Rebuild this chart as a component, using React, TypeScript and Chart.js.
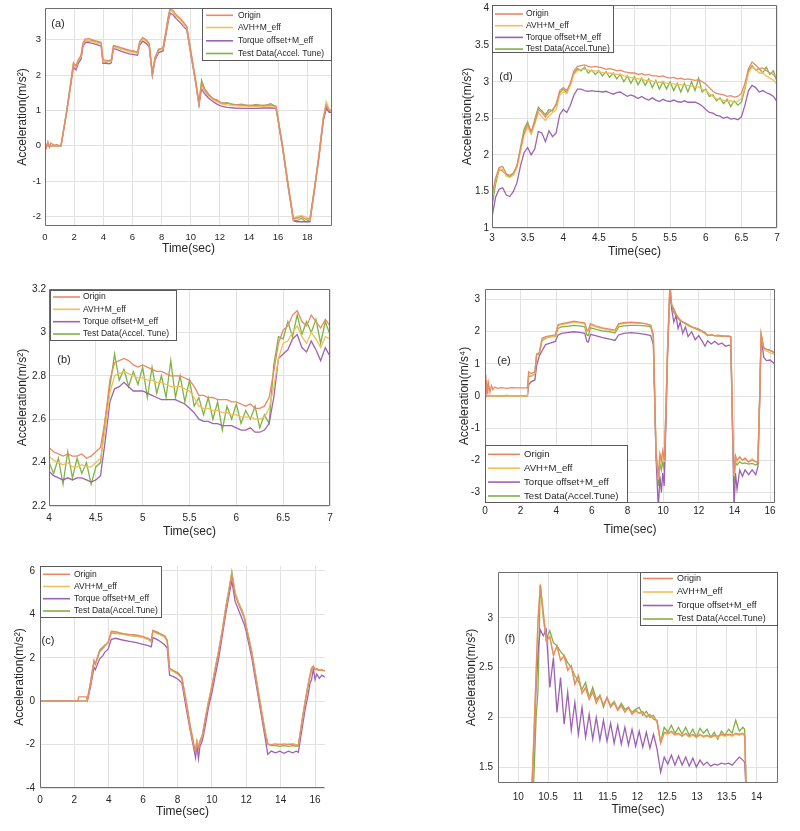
import React, { useEffect, useRef } from "react";
import { Chart, registerables } from "chart.js";
Chart.register(...registerables);

// ---------------- DATA ----------------
const NAMES_SPACE = ["Origin", "AVH+M_eff", "Torque offset+M_eff", "Test Data(Accel. Tune)"];
const NAMES_NOSPACE = ["Origin", "AVH+M_eff", "Torque offset+M_eff", "Test Data(Accel.Tune)"];

// Panel (a)
const xA = [0,0.1,0.2,0.3,0.4,0.6,0.8,1.1,1.5,1.95,
  2.13,2.3,2.47,2.6,2.75,3.0,3.25,3.5,3.85,3.98,
  4.2,4.4,4.55,4.7,4.9,5.2,5.5,5.8,6.1,6.35,
  6.5,6.7,6.95,7.15,7.37,7.55,7.8,8.1,8.3,8.5,
  8.6,8.8,9.0,9.25,9.5,9.73,10.0,10.3,10.57,10.75,
  10.95,11.2,11.5,11.8,12.1,12.5,13.0,13.5,14.0,14.5,
  15.0,15.5,15.86,16.3,16.7,17.05,17.3,17.6,17.9,18.19,
  18.5,18.8,19.1,19.3,19.5,19.7];
const aOrigin = [0.15,-0.05,0.12,-0.04,0.08,0.02,0.03,0.0,1.0,2.35,
  2.25,2.45,2.55,2.9,3.02,3.03,3.0,2.97,2.93,2.43,
  2.42,2.41,2.43,2.84,2.82,2.78,2.74,2.71,2.68,2.66,
  2.95,3.06,3.0,2.9,2.05,2.5,2.72,2.78,3.25,3.72,
  3.9,3.82,3.72,3.62,3.5,3.38,2.7,1.95,1.22,1.78,
  1.6,1.45,1.35,1.28,1.22,1.2,1.17,1.15,1.15,1.14,
  1.15,1.16,1.12,0.0,-1.15,-2.05,-2.05,-2.0,-2.08,-2.05,
  -1.2,-0.3,0.75,1.15,1.0,1.0];
const aAVH = [0,0,0.01,0,0,0,0,0,1.0,2.3,
  2.22,2.42,2.52,2.85,2.98,2.97,2.95,2.92,2.88,2.38,
  2.38,2.37,2.4,2.8,2.78,2.74,2.7,2.67,2.64,2.62,
  2.9,3.02,2.96,2.86,2.02,2.47,2.7,2.74,3.2,3.68,
  3.85,3.78,3.68,3.58,3.46,3.34,2.66,1.92,1.2,1.72,
  1.56,1.42,1.32,1.24,1.19,1.16,1.14,1.12,1.12,1.11,
  1.12,1.13,1.1,0.0,-1.15,-2.1,-2.0,-1.98,-2.02,-2.1,
  -1.2,-0.3,0.8,1.25,1.05,0.95];
const aTorque = [0,0,0,0,0,0,0,0,0.98,2.22,
  2.15,2.35,2.45,2.8,2.92,2.92,2.9,2.87,2.82,2.33,
  2.33,2.32,2.35,2.75,2.73,2.68,2.64,2.6,2.58,2.56,
  2.85,2.96,2.9,2.8,1.98,2.42,2.64,2.68,3.14,3.6,
  3.75,3.7,3.6,3.5,3.38,3.28,2.6,1.88,1.15,1.62,
  1.48,1.36,1.26,1.18,1.12,1.09,1.07,1.06,1.06,1.06,
  1.07,1.07,1.06,-0.05,-1.2,-2.12,-2.15,-2.15,-2.15,-2.15,
  -1.25,-0.35,0.7,1.05,0.95,0.95];
const aTest = [0,0.01,0,0.01,0,0,0,0,1.02,2.3,
  2.28,2.42,2.5,2.88,2.98,2.95,2.98,2.93,2.9,2.4,
  2.36,2.42,2.38,2.82,2.8,2.74,2.72,2.66,2.68,2.62,
  2.92,3.03,2.97,2.88,2.04,2.48,2.74,2.72,3.22,3.75,
  3.86,3.8,3.66,3.6,3.48,3.36,2.7,1.95,1.2,1.85,
  1.62,1.48,1.33,1.3,1.2,1.22,1.15,1.18,1.12,1.17,
  1.12,1.19,1.1,0.02,-1.12,-2.1,-2.12,-2.05,-2.15,-2.08,
  -1.18,-0.28,0.78,1.1,0.98,1.02];
const xTicksA = [0,2,4,6,8,10,12,14,16,18];
const yTicksA = [-2,-1,0,1,2,3];

// Panel (b)
const xB = [4,4.05,4.1,4.15,4.2,4.25,4.3,4.35,4.4,4.45,
  4.5,4.55,4.6,4.65,4.7,4.75,4.8,4.85,4.9,4.95,
  5,5.05,5.1,5.15,5.2,5.25,5.3,5.35,5.4,5.45,
  5.5,5.55,5.6,5.65,5.7,5.75,5.8,5.85,5.9,5.95,
  6,6.05,6.1,6.15,6.2,6.25,6.3,6.35,6.4,6.45,
  6.5,6.55,6.6,6.65,6.7,6.75,6.8,6.85,6.9,6.95,7];
const bOrigin = [2.47,2.45,2.44,2.43,2.44,2.43,2.43,2.44,2.42,2.43,
  2.45,2.47,2.6,2.78,2.86,2.87,2.88,2.87,2.85,2.84,
  2.85,2.84,2.83,2.82,2.82,2.81,2.8,2.8,2.8,2.79,
  2.78,2.75,2.71,2.71,2.7,2.7,2.69,2.69,2.69,2.68,
  2.68,2.67,2.66,2.67,2.65,2.65,2.66,2.7,2.82,2.95,
  3.01,3.03,3.08,3.1,3.05,3.03,3.08,3.05,3.02,3.06,3.03];
const bAVH = [2.43,2.41,2.4,2.39,2.4,2.38,2.38,2.39,2.38,2.38,
  2.4,2.42,2.55,2.72,2.8,2.81,2.82,2.81,2.8,2.79,
  2.79,2.78,2.78,2.77,2.77,2.76,2.75,2.75,2.75,2.74,
  2.73,2.7,2.66,2.65,2.65,2.64,2.64,2.63,2.63,2.62,
  2.62,2.61,2.61,2.61,2.6,2.6,2.61,2.65,2.75,2.88,
  2.95,2.96,3.0,3.03,2.98,2.95,3.0,2.97,2.93,2.98,2.97];
const bTorque = [2.36,2.34,2.33,2.32,2.33,2.32,2.33,2.33,2.32,2.31,
  2.32,2.34,2.5,2.68,2.74,2.75,2.77,2.75,2.73,2.73,
  2.73,2.72,2.71,2.7,2.69,2.69,2.69,2.69,2.68,2.67,
  2.65,2.63,2.6,2.59,2.59,2.58,2.58,2.57,2.57,2.57,
  2.56,2.55,2.55,2.56,2.54,2.54,2.55,2.58,2.7,2.88,
  2.9,2.92,2.97,2.99,2.93,2.91,2.96,2.92,2.87,2.93,2.89];
const bTest = [2.4,2.35,2.42,2.3,2.45,2.33,2.42,2.35,2.4,2.3,
  2.38,2.4,2.6,2.75,2.9,2.78,2.83,2.75,2.82,2.76,
  2.84,2.7,2.84,2.72,2.8,2.7,2.87,2.7,2.8,2.68,
  2.78,2.66,2.7,2.62,2.7,2.6,2.68,2.55,2.66,2.6,
  2.67,2.58,2.64,2.6,2.66,2.56,2.62,2.58,2.85,2.98,
  2.97,3.05,2.98,3.08,2.99,3.05,3.0,3.06,2.95,3.05,2.99];
const xTicksB = [4,4.5,5,5.5,6,6.5,7];
const yTicksB = [2.2,2.4,2.6,2.8,3,3.2];

// Panel (c)
const xC = [0,1.0,2.2,2.25,2.7,2.75,2.95,3.14,3.22,3.47,
  3.66,3.76,3.96,4.15,4.4,4.8,5.2,5.6,6.0,6.3,
  6.47,6.57,6.8,7.0,7.25,7.4,7.54,7.8,8.05,8.25,
  8.5,8.75,8.95,9.05,9.13,9.22,9.3,9.45,9.6,9.8,
  10.0,10.2,10.4,10.6,10.8,11.0,11.16,11.35,11.55,11.75,
  11.9,12.0,12.32,12.55,12.8,13.1,13.25,13.45,13.7,13.95,
  14.2,14.45,14.7,14.9,15.03,15.2,15.42,15.6,15.7,15.8,
  15.9,16.0,16.1,16.25,16.4,16.58];
const cOrigin = [0,0,0,0.2,0.2,0.05,0.9,1.88,1.7,2.3,
  2.45,2.55,2.72,3.22,3.2,3.12,3.08,3.05,2.98,2.9,
  2.8,3.27,3.15,3.1,3.0,2.8,1.5,1.38,1.25,1.1,
  0.0,-1.2,-2.0,-2.3,-1.9,-2.2,-1.9,-1.6,-0.9,-0.1,
  0.65,1.5,2.3,3.2,4.2,5.1,5.85,4.9,4.45,4.1,
  3.77,3.39,2.2,1.1,-0.12,-1.5,-2.0,-2.0,-2.02,-1.98,
  -2.02,-1.98,-2.0,-2.02,-2.05,-1.2,-0.1,0.7,1.1,1.45,
  1.62,1.45,1.5,1.42,1.45,1.4];
const cAVH = [0,0,0,0,0,0.05,0.88,1.85,1.68,2.28,
  2.42,2.52,2.7,3.18,3.15,3.08,3.04,3.0,2.93,2.85,
  2.75,3.22,3.12,3.05,2.95,2.75,1.45,1.35,1.22,1.05,
  -0.05,-1.25,-2.05,-2.2,-1.8,-2.1,-1.85,-1.55,-0.85,0.0,
  0.7,1.55,2.35,3.25,4.25,5.15,5.9,5.0,4.5,4.15,
  3.8,3.42,2.25,1.15,-0.05,-1.45,-1.95,-2.0,-1.95,-2.0,
  -1.95,-2.0,-1.95,-2.0,-2.0,-1.15,-0.05,0.75,1.15,1.5,
  1.6,1.48,1.5,1.45,1.42,1.42];
const cTorque = [0,0,0,0,0,0,0.7,1.57,1.45,1.95,
  2.1,2.25,2.4,2.85,2.9,2.82,2.76,2.7,2.62,2.56,
  2.5,2.93,2.85,2.75,2.6,2.45,1.2,1.12,1.0,0.85,
  -0.3,-1.4,-2.2,-2.6,-2.0,-2.65,-2.1,-1.8,-1.2,-0.3,
  0.4,1.2,2.0,3.0,4.0,4.9,5.55,4.6,4.2,3.8,
  3.5,3.2,2.0,0.9,-0.3,-1.7,-2.45,-2.3,-2.38,-2.3,
  -2.4,-2.3,-2.38,-2.3,-2.35,-1.5,-0.4,0.3,0.8,1.0,
  1.5,1.0,1.25,1.05,1.2,1.1];
const cTest = [0,0,0,0,0,0,0.9,1.8,1.7,2.35,
  2.5,2.58,2.68,3.15,3.12,3.1,3.02,3.0,2.95,2.85,
  2.72,3.25,3.2,3.1,3.0,2.8,1.5,1.4,1.3,1.1,
  0.0,-1.2,-2.0,-2.25,-1.85,-2.15,-1.85,-1.55,-0.9,-0.05,
  0.7,1.55,2.35,3.25,4.3,5.2,5.97,5.0,4.55,4.2,
  3.85,3.45,2.3,1.2,0.0,-1.4,-1.95,-2.05,-2.05,-2.08,
  -2.05,-2.08,-2.05,-2.08,-2.05,-1.1,0.0,0.8,1.2,1.55,
  1.6,1.48,1.45,1.42,1.42,1.4];
const xTicksC = [0,2,4,6,8,10,12,14,16];
const yTicksC = [-4,-2,0,2,4,6];

// Panel (d)
const xD = [3,3.05,3.1,3.15,3.2,3.25,3.3,3.35,3.4,3.45,
  3.5,3.55,3.6,3.65,3.7,3.75,3.8,3.85,3.9,3.95,
  4,4.05,4.1,4.15,4.2,4.25,4.3,4.35,4.4,4.45,
  4.5,4.55,4.6,4.65,4.7,4.75,4.8,4.85,4.9,4.95,
  5,5.05,5.1,5.15,5.2,5.25,5.3,5.35,5.4,5.45,
  5.5,5.55,5.6,5.65,5.7,5.75,5.8,5.85,5.9,5.95,
  6,6.05,6.1,6.15,6.2,6.25,6.3,6.35,6.4,6.45,
  6.5,6.55,6.6,6.65,6.7,6.75,6.8,6.85,6.9,6.95,7];
const dOrigin = [1.45,1.68,1.83,1.84,1.74,1.72,1.75,1.85,2.08,2.3,
  2.42,2.32,2.45,2.62,2.58,2.52,2.58,2.62,2.68,2.88,
  2.92,2.88,2.98,3.15,3.21,3.22,3.23,3.21,3.2,3.21,
  3.2,3.19,3.17,3.18,3.17,3.15,3.16,3.14,3.13,3.12,
  3.12,3.1,3.11,3.09,3.1,3.08,3.08,3.07,3.08,3.06,
  3.05,3.06,3.04,3.05,3.03,3.04,3.03,3.02,3.03,3.0,
  2.97,2.92,2.87,2.84,2.83,2.82,2.8,2.81,2.79,2.8,
  2.84,2.98,3.18,3.27,3.23,3.18,3.19,3.15,3.12,3.1,3.03];
const dAVH = [1.4,1.65,1.81,1.8,1.71,1.69,1.72,1.82,2.05,2.27,
  2.38,2.28,2.42,2.58,2.52,2.47,2.53,2.58,2.62,2.82,
  2.86,2.84,2.95,3.1,3.15,3.17,3.17,3.16,3.15,3.15,
  3.14,3.13,3.12,3.12,3.11,3.1,3.1,3.08,3.07,3.06,
  3.05,3.04,3.04,3.02,3.02,3.01,3.0,2.99,3.0,2.98,
  2.97,2.97,2.96,2.96,2.95,2.95,2.94,2.93,2.93,2.9,
  2.88,2.84,2.8,2.77,2.76,2.75,2.73,2.74,2.72,2.73,
  2.77,2.92,3.12,3.2,3.17,3.12,3.12,3.08,3.05,3.02,2.97];
const dTorque = [1.15,1.42,1.53,1.55,1.45,1.43,1.5,1.62,1.85,2.03,
  2.1,2.0,2.08,2.32,2.3,2.18,2.33,2.25,2.3,2.55,
  2.62,2.58,2.68,2.82,2.9,2.9,2.88,2.87,2.88,2.87,
  2.87,2.86,2.87,2.85,2.83,2.85,2.86,2.83,2.8,2.82,
  2.8,2.77,2.8,2.77,2.75,2.78,2.75,2.73,2.76,2.74,
  2.73,2.75,2.73,2.72,2.74,2.72,2.72,2.72,2.7,2.67,
  2.62,2.58,2.57,2.54,2.53,2.5,2.52,2.49,2.5,2.48,
  2.52,2.68,2.88,2.95,2.92,2.86,2.88,2.85,2.83,2.8,2.73];
const dTest = [1.3,1.6,1.8,1.78,1.73,1.7,1.75,1.85,2.1,2.35,
  2.45,2.3,2.48,2.65,2.6,2.55,2.62,2.6,2.7,2.85,
  2.9,2.85,2.98,3.12,3.18,3.15,3.2,3.12,3.16,3.1,
  3.15,3.08,3.14,3.06,3.12,3.04,3.1,3.0,3.08,2.98,
  3.07,2.96,3.05,2.95,3.04,2.92,3.02,2.9,3.0,2.9,
  3.0,2.88,2.98,2.86,2.98,2.86,3.0,2.88,3.05,2.86,
  2.9,2.8,2.82,2.74,2.78,2.7,2.76,2.66,2.74,2.68,
  2.72,2.9,3.15,3.22,3.16,3.18,3.12,3.2,3.1,3.15,3.0];
const xTicksD = [3,3.5,4,4.5,5,5.5,6,6.5,7];
const yTicksD = [1,1.5,2,2.5,3,3.5,4];

// Panel (e)
const xE = [0,0.05,0.1,0.15,0.2,0.28,0.36,0.45,0.55,0.7,
  0.9,1.2,1.5,1.8,2.1,2.38,2.45,2.6,2.8,2.9,
  3.05,3.2,3.4,3.7,3.95,4.1,4.3,4.6,5.0,5.3,
  5.6,5.72,5.8,5.92,6.2,6.6,7.0,7.3,7.5,7.8,
  8.2,8.6,9.0,9.3,9.45,9.6,9.73,9.82,9.9,9.98,
  10.06,10.15,10.25,10.38,10.48,10.6,10.72,10.84,10.96,11.1,
  11.25,11.4,11.6,11.8,12.0,12.2,12.35,12.5,12.7,12.9,
  13.1,13.3,13.5,13.7,13.8,13.9,13.98,14.06,14.15,14.3,
  14.45,14.6,14.8,15.0,15.2,15.32,15.42,15.5,15.65,15.8,
  16.0,16.15,16.28];
const eOrigin = [0.65,-0.05,0.5,0.05,0.4,0.12,0.32,0.2,0.28,0.24,
  0.26,0.24,0.26,0.25,0.25,0.25,0.75,0.7,0.75,1.3,
  1.35,1.8,1.85,1.88,1.9,2.22,2.25,2.28,2.33,2.3,
  2.28,2.05,2.05,2.25,2.18,2.12,2.08,2.05,2.25,2.28,
  2.3,2.28,2.25,2.2,1.9,-1.7,-2.5,-1.8,-2.0,-1.7,
  -2.0,-0.5,1.5,3.5,2.85,2.7,2.55,2.45,2.35,2.3,
  2.25,2.2,2.15,2.1,2.05,2.0,1.95,1.88,1.9,1.88,
  1.87,1.88,1.86,1.85,1.85,-1.0,-2.4,-1.85,-2.0,-1.9,
  -2.0,-1.95,-2.05,-2.0,-2.05,-2.05,0.0,1.95,1.5,1.45,
  1.42,1.38,1.32];
const eAVH = [0,0,0,0,0,0,0,0,0,0,
  0,0,0,0,0,0,0.68,0.62,0.7,1.3,
  1.32,1.75,1.82,1.85,1.87,2.18,2.22,2.25,2.3,2.28,
  2.25,2.02,2.02,2.22,2.15,2.1,2.05,2.02,2.22,2.26,
  2.28,2.27,2.25,2.2,1.9,-1.7,-2.6,-1.85,-2.1,-1.75,
  -2.05,-0.5,1.5,3.5,2.85,2.72,2.55,2.45,2.38,2.3,
  2.25,2.2,2.15,2.1,2.05,2.0,1.95,1.9,1.92,1.88,
  1.9,1.87,1.86,1.86,1.85,-1.0,-2.5,-1.9,-2.05,-1.88,
  -2.0,-1.92,-2.05,-1.95,-2.05,-2.05,0.0,1.95,1.45,1.4,
  1.35,1.32,1.28];
const eTorque = [0,0,0,0,0,0,0,0,0,0,
  0,0,0,0,0,0,0.35,0.45,0.5,0.95,
  1.25,1.4,1.6,1.65,1.7,1.9,1.95,1.97,2.0,1.98,
  1.95,1.7,1.68,1.92,1.88,1.82,1.77,1.73,1.9,1.95,
  1.97,1.95,1.92,1.88,1.6,-1.9,-3.5,-2.5,-3.0,-2.4,
  -2.8,-1.0,1.3,3.3,2.7,2.3,2.5,2.1,2.3,1.95,
  2.15,1.85,2.0,1.75,1.88,1.7,1.55,1.72,1.62,1.7,
  1.6,1.65,1.55,1.58,1.55,-1.2,-3.5,-2.4,-2.9,-2.3,
  -2.5,-2.3,-2.45,-2.3,-2.45,-2.2,-0.2,1.85,1.2,1.1,
  1.12,1.05,1.0];
const eTest = [0,0.02,0,0.01,0,0.01,0,0.02,0,0.01,
  0,0.02,0,0.01,0,0,0.6,0.62,0.68,1.3,
  1.3,1.72,1.8,1.85,1.85,2.1,2.15,2.17,2.2,2.18,
  2.15,1.9,1.88,2.12,2.08,2.03,2.0,1.96,2.15,2.18,
  2.2,2.2,2.18,2.15,1.85,-1.8,-2.8,-2.1,-2.3,-2.05,
  -2.3,-0.7,1.4,3.4,2.8,2.6,2.5,2.4,2.35,2.3,
  2.28,2.22,2.15,2.12,2.08,2.02,1.98,1.88,1.9,1.87,
  1.88,1.85,1.86,1.87,1.82,-1.1,-2.7,-2.05,-2.15,-2.05,
  -2.1,-2.08,-2.12,-2.1,-2.15,-2.1,0.0,1.9,1.5,1.45,
  1.42,1.38,1.35];
const xTicksE = [0,2,4,6,8,10,12,14,16];
const yTicksE = [-3,-2,-1,0,1,2,3];

// Panel (f)
const xF = [10.2,10.25,10.3,10.33,10.37,10.42,10.47,10.53,10.59,10.65,
  10.71,10.77,10.83,10.89,10.95,11.01,11.07,11.13,11.19,11.25,
  11.31,11.37,11.43,11.49,11.55,11.61,11.67,11.73,11.79,11.85,
  11.91,11.97,12.03,12.09,12.15,12.21,12.27,12.33,12.39,12.45,
  12.51,12.57,12.63,12.69,12.75,12.81,12.87,12.93,12.99,13.05,
  13.11,13.17,13.23,13.29,13.35,13.41,13.47,13.53,13.59,13.65,
  13.71,13.77,13.8,13.83,13.86];
const fOrigin = [0.9,1.6,2.45,2.95,3.33,3.05,2.77,2.81,2.62,2.72,
  2.57,2.62,2.47,2.52,2.33,2.42,2.24,2.3,2.18,2.26,
  2.14,2.22,2.12,2.2,2.1,2.15,2.07,2.12,2.05,2.1,
  2.03,2.07,2.04,2.06,2.0,2.03,1.98,1.97,1.74,1.85,
  1.84,1.86,1.83,1.84,1.81,1.84,1.81,1.83,1.8,1.83,
  1.81,1.82,1.8,1.82,1.81,1.83,1.82,1.83,1.82,1.84,
  1.83,1.84,1.82,1.2,0.5];
const fAVH = [0.9,1.62,2.47,2.97,3.34,3.06,2.78,2.8,2.63,2.71,
  2.58,2.61,2.48,2.51,2.34,2.41,2.25,2.29,2.19,2.25,
  2.15,2.21,2.13,2.19,2.11,2.14,2.08,2.11,2.06,2.09,
  2.04,2.06,2.04,2.05,2.01,2.02,1.99,1.96,1.75,1.84,
  1.83,1.85,1.82,1.83,1.81,1.83,1.8,1.82,1.8,1.82,
  1.8,1.81,1.8,1.81,1.8,1.82,1.81,1.82,1.81,1.83,
  1.82,1.83,1.81,1.2,0.5];
const fTorque = [0.9,1.55,2.3,2.65,2.88,2.82,2.88,2.3,2.6,2.05,
  2.4,1.93,2.25,1.87,2.15,1.83,2.1,1.8,2.03,1.78,
  2.0,1.77,1.97,1.76,1.94,1.74,1.92,1.73,1.9,1.72,
  1.88,1.71,1.86,1.7,1.85,1.69,1.83,1.68,1.45,1.6,
  1.53,1.62,1.52,1.61,1.52,1.6,1.51,1.59,1.5,1.57,
  1.52,1.55,1.51,1.53,1.52,1.54,1.53,1.54,1.52,1.56,
  1.6,1.57,1.55,1.2,0.5];
const fTest = [0.5,1.2,2.0,2.25,3.33,3.0,2.78,2.87,2.75,2.72,
  2.66,2.62,2.55,2.5,2.42,2.36,2.28,2.35,2.2,2.3,
  2.18,2.22,2.1,2.2,2.12,2.16,2.08,2.14,2.08,2.1,
  2.05,2.08,2.1,2.02,2.06,2.0,2.02,1.95,1.75,1.9,
  1.85,1.92,1.84,1.9,1.83,1.9,1.82,1.88,1.8,1.89,
  1.84,1.88,1.8,1.85,1.78,1.86,1.82,1.88,1.84,1.97,
  1.86,1.9,1.88,1.2,0.5];
const xTicksF = [10,10.5,11,11.5,12,12.5,13,13.5,14];
const yTicksF = [1.5,2,2.5,3];

// ---------------- STYLE / LAYOUT ----------------
const COLORS = ["rgb(232,138,104)", "rgb(240,193,88)", "rgb(158,98,178)", "rgb(128,178,68)"];
const FONT = "'Liberation Sans', Arial, Helvetica, sans-serif";
const GRID = "rgb(226,226,226)";
const AXIS = "rgb(110,110,110)";
const TXT = "#262626";
const WY = 50, PT = 14, PR = 14, HX = 42;

type Cfg = any;

const PANELS: Cfg[] = [
  { xs: xA, series: [aOrigin, aAVH, aTorque, aTest], names: NAMES_SPACE, xr: [0, 19.7], yr: [-2.27, 3.9],
    xt: xTicksA, yt: yTicksA, p: { l: 45, t: 8, r: 332, b: 226 }, yTitle: "Acceleration(m/s²)", yTitleX: 23, xTitleY: 249,
    label: "(a)", lx: 58, ly: 24, box: true, xPad: 6, yPad: 4, tickSize: 9.5,
    lg: { x1: 202, y1: 8, x2: 332, y2: 61, ys: [15.3, 27.5, 40.8, 53.5], l1: 206, l2: 233, tx: 238, fs: 8.5 } },
  { xs: xD, series: [dOrigin, dAVH, dTorque, dTest], names: NAMES_NOSPACE, xr: [3, 7], yr: [1, 4.05],
    xt: xTicksD, yt: yTicksD, p: { l: 492, t: 5, r: 777, b: 228 }, yTitle: "Acceleration(m/s²)", yTitleX: 468, xTitleY: 252,
    label: "(d)", lx: 506, ly: 77, box: true, xPad: 4, yPad: 3, tickSize: 10,
    lg: { x1: 492, y1: 5, x2: 614, y2: 53, ys: [14, 25.7, 37.4, 49.1], l1: 495, l2: 523, tx: 526, fs: 8.5 } },
  { xs: xB, series: [bOrigin, bAVH, bTorque, bTest], names: NAMES_SPACE, xr: [4, 7], yr: [2.2, 3.2],
    xt: xTicksB, yt: yTicksB, p: { l: 49, t: 289, r: 330, b: 506 }, yTitle: "Acceleration(m/s²)", yTitleX: 23, xTitleY: 532,
    label: "(b)", lx: 64, ly: 360, box: true, xPad: 6, yPad: 3, tickSize: 10,
    lg: { x1: 50, y1: 290, x2: 177, y2: 341, ys: [297, 309.3, 321.7, 334], l1: 53, l2: 80, tx: 83, fs: 8.5 } },
  { xs: xE, series: [eOrigin, eAVH, eTorque, eTest], names: NAMES_NOSPACE, xr: [0, 16.28], yr: [-3.33, 3.33],
    xt: xTicksE, yt: yTicksE, p: { l: 485, t: 289, r: 775, b: 503 }, yTitle: "Acceleration(m/s⁴)", yTitleX: 465, xTitleY: 530,
    label: "(e)", lx: 504, ly: 361, box: true, xPad: 2, yPad: 5, tickSize: 10,
    lg: { x1: 485, y1: 445, x2: 628, y2: 503, ys: [454.3, 468.2, 482.1, 496], l1: 488, l2: 520, tx: 524, fs: 9.6 } },
  { xs: xC, series: [cOrigin, cAVH, cTorque, cTest], names: NAMES_NOSPACE, xr: [0, 16.58], yr: [-4, 6.23],
    xt: xTicksC, yt: yTicksC, p: { l: 40, t: 566, r: 325, b: 788 }, yTitle: "Acceleration(m/s²)", yTitleX: 20, xTitleY: 812,
    label: "(c)", lx: 48, ly: 641, box: false, xPad: 6, yPad: 5, tickSize: 10,
    lg: { x1: 40, y1: 566, x2: 162, y2: 618, ys: [574.3, 586.5, 598.7, 611], l1: 43, l2: 70, tx: 74, fs: 8.5 } },
  { xs: xF, series: [fOrigin, fAVH, fTorque, fTest], names: NAMES_NOSPACE, xr: [9.66, 14.36], yr: [1.34, 3.46],
    xt: xTicksF, yt: yTicksF, p: { l: 498, t: 572, r: 778, b: 783 }, yTitle: "Acceleration(m/s²)", yTitleX: 472, xTitleY: 810,
    label: "(f)", lx: 510, ly: 639, box: true, xPad: 8, yPad: 5, tickSize: 10,
    lg: { x1: 640, y1: 572, x2: 778, y2: 626, ys: [578.5, 592, 605.5, 619], l1: 643, l2: 673, tx: 677, fs: 9 } },
];

function makeDecor(cfg: Cfg, ox: number, oy: number) {
  return {
    id: "decor",
    afterDatasetsDraw(chart: any) {
      const ctx = chart.ctx;
      const ca = chart.chartArea;
      ctx.save();
      ctx.strokeStyle = AXIS;
      ctx.lineWidth = 1;
      const L = Math.round(ca.left) + 0.5, R = Math.round(ca.right) - 0.5;
      const T = Math.round(ca.top) + 0.5, B = Math.round(ca.bottom) - 0.5;
      ctx.beginPath();
      if (cfg.box) {
        ctx.rect(L, T, R - L, B - T);
      } else {
        ctx.moveTo(L, T); ctx.lineTo(L, B); ctx.lineTo(R, B);
      }
      ctx.stroke();
      const lg = cfg.lg;
      const x1 = Math.round(lg.x1 - ox) + 0.5, y1 = Math.round(lg.y1 - oy) + 0.5;
      const x2 = Math.round(lg.x2 - ox) - 0.5, y2 = Math.round(lg.y2 - oy) - 0.5;
      ctx.fillStyle = "#fff";
      ctx.fillRect(x1, y1, x2 - x1, y2 - y1);
      ctx.strokeStyle = "rgb(90,90,90)";
      ctx.strokeRect(x1, y1, x2 - x1, y2 - y1);
      ctx.font = `${lg.fs}px ${FONT}`;
      ctx.textAlign = "left";
      ctx.textBaseline = "middle";
      for (let k = 0; k < 4; k++) {
        const yy = lg.ys[k] - oy;
        ctx.strokeStyle = COLORS[k];
        ctx.lineWidth = 1.6;
        ctx.beginPath();
        ctx.moveTo(lg.l1 - ox, yy); ctx.lineTo(lg.l2 - ox, yy);
        ctx.stroke();
        ctx.fillStyle = TXT;
        ctx.fillText(cfg.names[k], lg.tx - ox, yy);
      }
      ctx.font = `11px ${FONT}`;
      ctx.textAlign = "center";
      ctx.fillStyle = TXT;
      ctx.fillText(cfg.label, cfg.lx - ox, cfg.ly - oy);
      ctx.font = `12px ${FONT}`;
      ctx.fillText("Time(sec)", (ca.left + ca.right) / 2, cfg.xTitleY - oy);
      ctx.translate(cfg.yTitleX - ox, (ca.top + ca.bottom) / 2);
      ctx.rotate(-Math.PI / 2);
      ctx.fillText(cfg.yTitle, 0, 0);
      ctx.restore();
    },
  };
}

function Panel({ cfg }: { cfg: Cfg }) {
  const ref = useRef<HTMLCanvasElement>(null);
  const { l, t, r, b } = cfg.p;
  const cl = l - WY, ct = t - PT;
  const cw = WY + (r - l) + PR, ch = PT + (b - t) + HX;
  useEffect(() => {
    const tickFont = { family: FONT, size: cfg.tickSize };
    const chart = new Chart(ref.current as HTMLCanvasElement, {
      type: "line",
      data: {
        datasets: cfg.series.map((ys: number[], k: number) => ({
          label: cfg.names[k],
          data: cfg.xs.map((x: number, i: number) => ({ x, y: ys[i] })),
          borderColor: COLORS[k],
          backgroundColor: COLORS[k],
          borderWidth: 1.3,
          pointRadius: 0,
          fill: false,
          tension: 0,
        })),
      },
      options: {
        animation: false,
        responsive: false,
        devicePixelRatio: 1,
        events: [],
        layout: { padding: { top: PT, right: PR, left: 0, bottom: 0 } },
        plugins: { legend: { display: false }, tooltip: { enabled: false } },
        scales: {
          x: {
            type: "linear",
            min: cfg.xr[0],
            max: cfg.xr[1],
            afterBuildTicks: (s: any) => { s.ticks = cfg.xt.map((v: number) => ({ value: v })); },
            afterFit: (s: any) => { s.height = HX; },
            grid: { color: GRID, drawTicks: false, lineWidth: 1 },
            border: { display: false },
            ticks: { color: TXT, font: tickFont, padding: cfg.xPad, maxRotation: 0, autoSkip: false, callback: (v: any) => String(v) },
          },
          y: {
            type: "linear",
            min: cfg.yr[0],
            max: cfg.yr[1],
            afterBuildTicks: (s: any) => { s.ticks = cfg.yt.map((v: number) => ({ value: v })); },
            afterFit: (s: any) => { s.width = WY; },
            grid: { color: GRID, drawTicks: false, lineWidth: 1 },
            border: { display: false },
            ticks: { color: TXT, font: tickFont, padding: cfg.yPad, autoSkip: false, callback: (v: any) => String(v) },
          },
        },
      } as any,
      plugins: [makeDecor(cfg, cl, ct)],
    });
    return () => chart.destroy();
  }, []);
  return (
    <canvas
      ref={ref}
      width={cw}
      height={ch}
      style={{ position: "absolute", left: cl, top: ct, width: cw, height: ch }}
    />
  );
}

export default function App() {
  return (
    <div style={{ position: "absolute", left: 0, top: 0, width: 800, height: 831, background: "#fff", overflow: "hidden" }}>
      {PANELS.map((cfg, i) => (
        <Panel key={i} cfg={cfg} />
      ))}
    </div>
  );
}
